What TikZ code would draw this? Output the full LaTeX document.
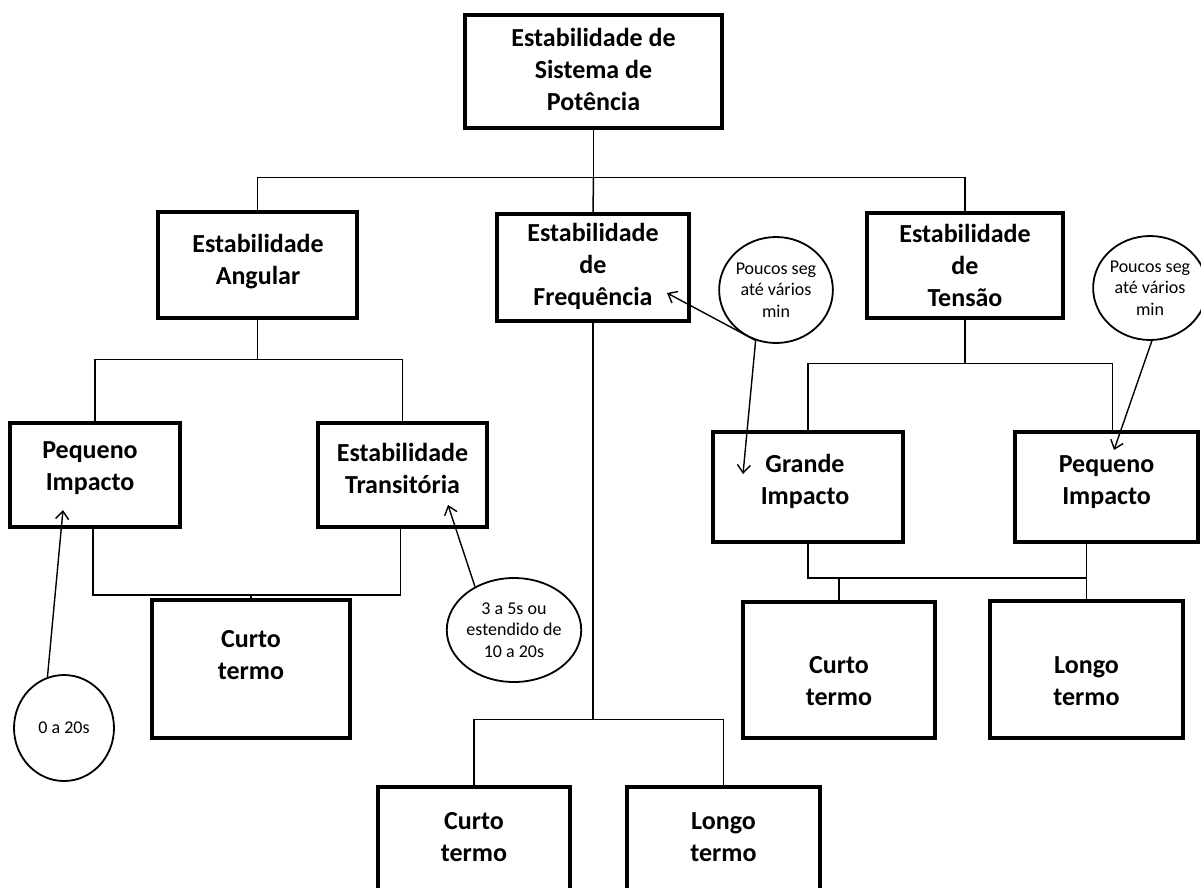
\documentclass[tikz,border=0pt]{standalone}
\usepackage{fontspec}
\setmainfont{Carlito}
\usetikzlibrary{arrows.meta,shapes.geometric}
\begin{document}
\begin{tikzpicture}[x=1pt,y=-1pt,
  box/.style={draw=black,line width=3.2pt,rectangle,inner sep=0pt,fill=white},
  lbl/.style={font=\fontsize{26}{32}\selectfont\bfseries,align=center,inner sep=0pt},
  bubble/.style={draw=black,line width=1.8pt,ellipse,inner sep=0pt,fill=white},
  small/.style={font=\fontsize{18}{21.5}\selectfont,align=center,inner sep=0pt},
  link/.style={line width=1.5pt},
  ptr/.style={line width=1.4pt,-{Straight Barb[length=8pt,width=13pt]}}
]
\useasboundingbox (0,0) rectangle (1201,887);
\clip (0,0) rectangle (1201,887);
\fill[white] (0,0) rectangle (1201,887);

% boxes
\node[box,minimum width=257pt,minimum height=113pt] (top) at (593.5,71.5) {};
\node[box,minimum width=199pt,minimum height=106pt] (ang) at (257.5,265) {};
\node[box,minimum width=192pt,minimum height=107pt] (freq) at (593,267.5) {};
\node[box,minimum width=196pt,minimum height=105pt] (ten) at (965,265.5) {};
\node[box,minimum width=170pt,minimum height=104pt] (pq1) at (95,475) {};
\node[box,minimum width=169pt,minimum height=104pt] (tr) at (402.5,475) {};
\node[box,minimum width=198pt,minimum height=138pt] (cl) at (251,669) {};
\node[box,minimum width=190pt,minimum height=110pt] (gi) at (808,487) {};
\node[box,minimum width=183pt,minimum height=110pt] (pr) at (1106.5,487) {};
\node[box,minimum width=192pt,minimum height=136pt] (cr) at (839,670) {};
\node[box,minimum width=193pt,minimum height=137pt] (lr) at (1086.5,669.5) {};
\node[box,minimum width=192pt,minimum height=133pt] (cb) at (474,853.5) {};
\node[box,minimum width=193pt,minimum height=133pt] (lb) at (723.5,853.5) {};

% box texts
\node[lbl] (ttop) at (593.5,69) {Estabilidade de\\Sistema de\\Potência};
\node[lbl] (tang) at (258,262) {Estabilidade\\Angular};
\node[lbl] (tfreq) at (593,266) {Estabilidade\\de\\Frequência};
\node[lbl] (tten) at (965,265) {Estabilidade\\de\\Tensão};
\node[lbl] (tpq1) at (90,468) {Pequeno\\Impacto};
\node[lbl] (ttr) at (402.5,468) {Estabilidade\\Transitória};
\node[lbl] (tcl) at (251,655) {Curto\\termo};
\node[lbl] (tgi) at (805,481) {Grande\\Impacto};
\node[lbl] (tpr) at (1106.5,482) {Pequeno\\Impacto};
\node[lbl] (tcr) at (839,681) {Curto\\termo};
\node[lbl] (tlr) at (1086.5,681) {Longo\\termo};
\node[lbl] (tcb) at (474,837) {Curto\\termo};
\node[lbl] (tlb) at (723.5,837) {Longo\\termo};

% connectors
\draw[link] (top.south) -- ++(0,48) coordinate (j0);
\draw[link] (ang.north) |- (j0) -| (ten.north);
\draw[link] (j0) -- (freq.north);

\draw[link] (ang.south) -- ++(0,40) coordinate (j1);
\draw[link] (pq1.north) |- (j1) -| (tr.north);

\coordinate (j2) at (251,595);
\draw[link] ([xshift=-2pt]pq1.south) |- (j2) -| ([xshift=-2pt]tr.south);
\draw[link] (j2) -- (cl.north);

\draw[link] (freq.south) -- ++(0,397) coordinate (j3);
\draw[link] (cb.north) |- (j3) -| (lb.north);

\draw[link] (ten.south) -- ++(0,44) coordinate (j4);
\draw[link] (gi.north) |- (j4) -| ([xshift=6pt]pr.north);

\coordinate (j5) at (839,578);
\draw[link] (gi.south) |- (lr.north |- j5);
\draw[link] (j5) -- (cr.north);
\draw[link] (lr.north |- pr.south) -- (lr.north);

% bubbles
\node[bubble,minimum width=104pt,minimum height=106pt,small] (pm) at (776,290) {Poucos seg\\até vários\\min};
\node[bubble,minimum width=100pt,minimum height=104pt,small] (pc) at (1150,288) {Poucos seg\\até vários\\min};
\node[bubble,minimum width=104pt,minimum height=104pt,small] (c3) at (514,630) {3 a 5s ou\\estendido de\\10 a 20s};
\node[bubble,minimum width=100pt,minimum height=106pt,small] (c0) at (64,728) {0 a 20s};

% pointer arrows
\coordinate (tipF) at (667,293);
\coordinate (tipG) at (743,474);
\coordinate (tipP) at (1114,450);
\coordinate (tipT) at (448,505);
\coordinate (tipQ) at (63,510);
\draw[ptr] (pm.248) -- (tipF);
\draw[ptr] (pm.248) -- (tipG);
\draw[ptr] (pc.272) -- (tipP);
\draw[ptr] (c3.132) -- (tipT);
\draw[ptr] (c0.108) -- (tipQ);
\end{tikzpicture}
\end{document}
